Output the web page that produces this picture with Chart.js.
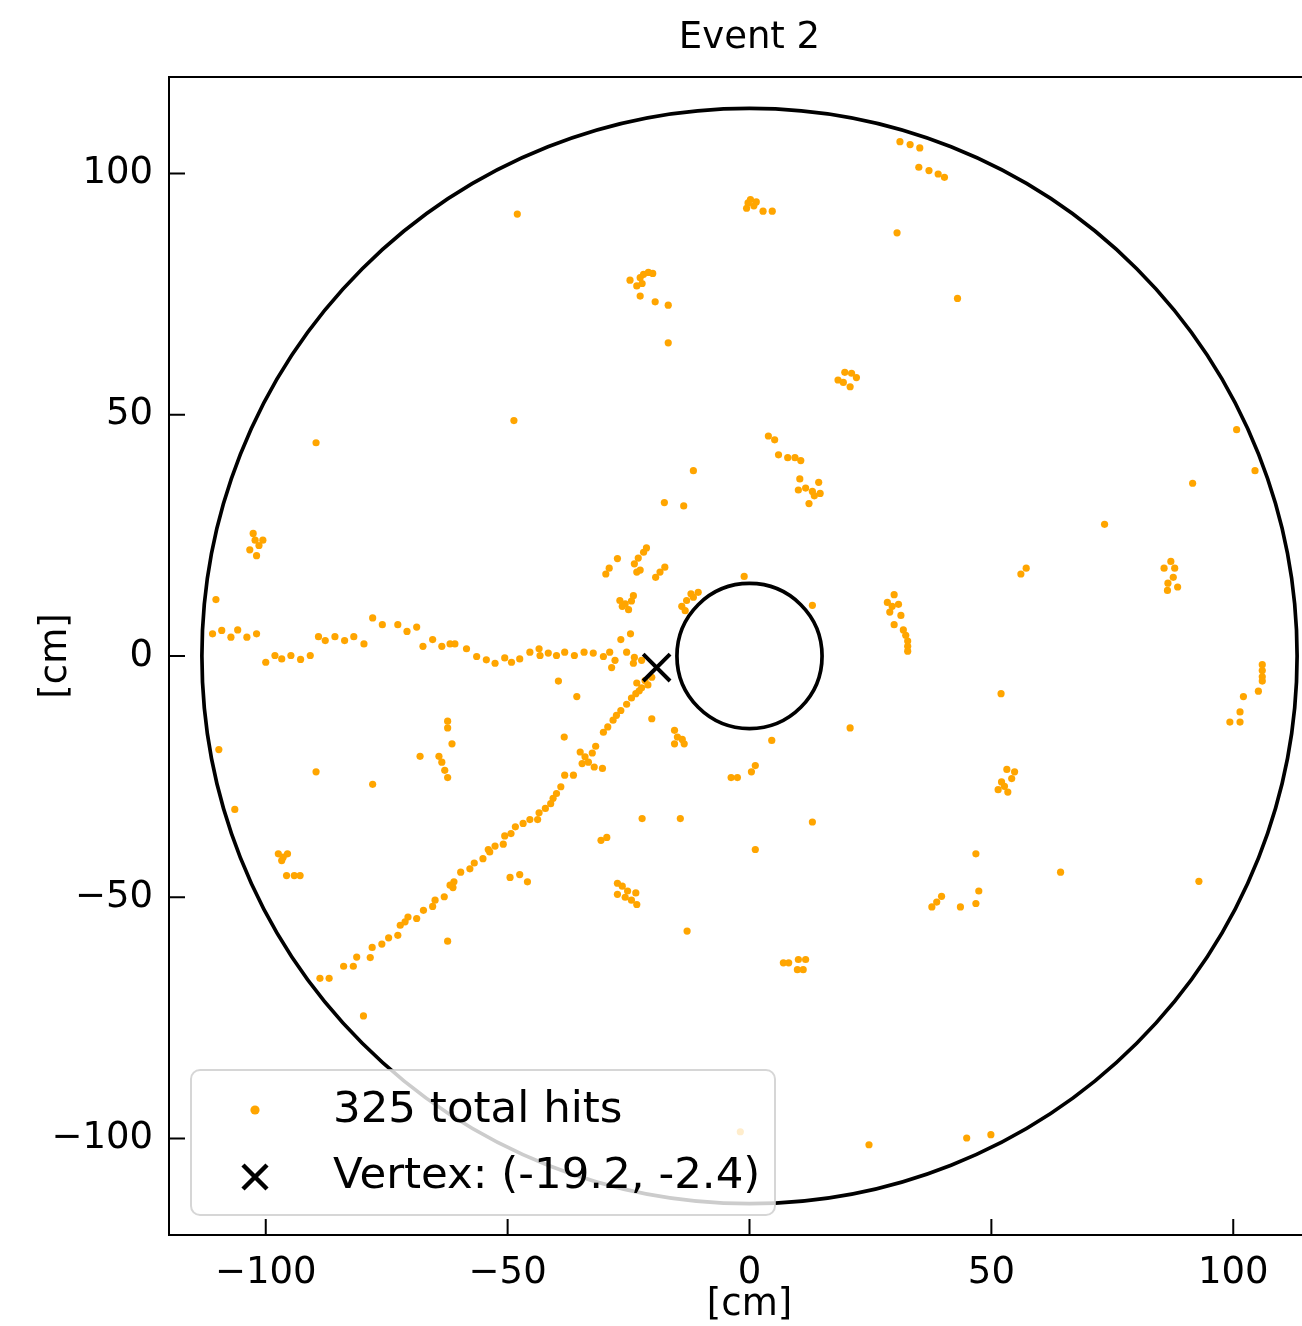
<!DOCTYPE html>
<html>
<head>
<meta charset="utf-8">
<title>Event 2</title>
<script src="https://cdn.jsdelivr.net/npm/chart.js@4.4.1/dist/chart.umd.min.js"></script>
<style>
  html, body { margin: 0; padding: 0; background: #fff; overflow: hidden; }
  /* canvas is a bit wider than the window, the right edge of the axes is cropped like the original */
  #wrap { width: 1353px; height: 1326px; position: relative; }
</style>
</head>
<body>
<div id="wrap"><canvas id="eventChart"></canvas></div>
<script>
// Hit positions [x, y] in cm
const hitPoints = [
    // upper left
    [-89.6, 44.2], [-48.0, 91.6], [-48.7, 48.8],
    [-24.7, 77.9], [-23.3, 76.7], [-22.6, 78.4], [-21.9, 79.1], [-20.9, 79.5], [-20.0, 79.3],
    [-22.2, 77.2], [-22.6, 74.6], [-19.5, 73.4], [-16.8, 72.7], [-16.8, 64.9],
    // upper right
    [31.1, 106.6], [33.2, 106.0], [35.2, 105.3], [35.0, 101.3], [37.1, 100.6], [39.0, 99.9], [40.3, 99.2],
    [-0.3, 93.9], [-0.6, 92.8], [1.4, 94.1], [2.8, 92.2], [4.7, 92.2], [0.2, 94.6], [0.9, 93.3],
    [30.5, 87.7], [43.0, 74.1],
    [18.3, 57.2], [19.7, 58.8], [21.1, 58.6], [22.1, 57.7], [20.8, 55.8], [19.4, 56.7],
    [3.9, 45.6], [5.2, 44.8], [6.0, 41.7], [7.9, 41.1], [9.4, 41.1], [10.6, 40.5],
    [100.7, 46.9],
    // left side
    [-102.6, 25.4], [-102.2, 24.0], [-100.6, 24.0], [-101.4, 22.9], [-103.3, 22.0], [-101.9, 20.8],
    [-110.3, 11.7],
    [-111.0, 4.6], [-109.1, 5.3], [-107.2, 3.9], [-105.8, 5.4], [-103.9, 3.9], [-101.9, 4.6],
    [-100.0, -1.3], [-98.1, 0.1], [-96.7, -0.6], [-94.8, 0.1], [-92.8, -0.7], [-90.8, 0.1],
    [-89.1, 4.0], [-87.7, 3.2], [-85.7, 4.0], [-83.7, 3.2], [-81.8, 4.0], [-79.7, 2.5],
    [-77.9, 7.9], [-75.9, 6.5], [-72.7, 6.5], [-70.8, 5.1], [-68.8, 6.0],
    [-67.5, 2.0], [-65.5, 3.4], [-63.6, 2.0], [-61.9, 2.5],
    [-62.4, -13.5], [-62.4, -14.9], [-61.5, -18.2],
    [-109.7, -19.4], [-68.1, -20.8], [-64.2, -20.8], [-63.6, -22.0], [-63.0, -23.7], [-62.4, -25.2],
    [-89.6, -24.0], [-77.9, -26.6], [-106.4, -31.8],
    // around the vertex
    [-11.6, 38.4], [-17.6, 31.8], [-13.6, 31.1], [-27.3, 20.2], [-29.7, 17.0], [-29.0, 18.2],
    [-23.8, 19.1], [-23.0, 20.3], [-21.9, 21.5], [-21.3, 22.4], [-23.3, 17.4], [-22.6, 17.8],
    [-19.4, 16.3], [-18.5, 17.4], [-17.5, 18.4],
    [-26.8, 11.5], [-25.7, 10.8], [-24.0, 12.5], [-25.0, 9.6], [-26.3, 10.3], [-24.4, 11.4],
    [-14.0, 10.3], [-13.0, 11.5], [-12.1, 12.9], [-10.6, 13.2], [-13.3, 9.4], [-11.6, 12.2],
    [-24.6, 4.6], [-26.6, 3.4],
    // horizontal track
    [-60.9, 2.5], [-58.5, 1.5], [-56.4, -0.1], [-54.4, -0.8], [-52.6, -1.5], [-50.6, -0.4],
    [-49.2, -1.3], [-47.5, -0.6], [-45.4, 0.8], [-43.5, 1.5], [-43.3, 0.1], [-41.6, 0.6],
    [-39.9, 0.1], [-38.2, 0.8], [-36.2, 0.1], [-34.2, 0.8], [-32.3, 0.6], [-30.2, -0.1],
    [-28.9, 0.8], [-27.8, -0.9], [-28.5, -2.4], [-25.4, 0.8], [-23.8, -0.3], [-22.3, -0.9], [-24.0, -1.5],
    [-39.5, -5.2], [-35.7, -8.4],
    // diagonal track
    [-20.2, -4.4], [-21.6, -5.1], [-23.3, -5.6], [-22.3, -6.6], [-21.0, -6.0], [-22.8, -7.2],
    [-23.5, -7.8], [-24.4, -8.7], [-25.4, -10.0], [-26.6, -11.3], [-27.5, -12.3], [-28.2, -13.3],
    [-29.3, -14.7], [-30.2, -15.8], [-31.8, -18.7], [-32.5, -20.1], [-35.0, -19.9], [-34.0, -20.9],
    [-34.6, -22.3], [-33.3, -22.0], [-32.1, -23.0], [-30.4, -23.3], [-38.2, -24.7], [-36.4, -24.7],
    [-39.0, -27.1], [-39.9, -28.5], [-40.6, -29.5], [-41.1, -30.6], [-42.2, -31.6], [-43.5, -32.5],
    [-43.8, -33.9], [-45.4, -33.9], [-46.8, -34.7], [-48.4, -35.4], [-49.3, -36.8], [-50.6, -37.3],
    [-50.9, -39.0], [-52.6, -39.4], [-54.0, -40.1],
    [-53.7, -40.6], [-55.1, -42.0], [-56.9, -42.9], [-57.8, -44.1], [-59.7, -44.8], [-61.1, -46.8],
    [-61.3, -48.0], [-61.9, -47.5], [-63.1, -49.9], [-65.0, -50.6], [-65.5, -51.9], [-67.4, -52.7],
    [-68.8, -54.4], [-70.6, -54.1], [-71.2, -55.1], [-72.2, -55.8], [-72.7, -57.9], [-74.6, -58.4],
    [-76.0, -59.7], [-78.0, -60.4], [-78.4, -62.5], [-81.2, -62.4], [-81.9, -64.3], [-83.9, -64.3],
    [-86.9, -66.8], [-88.8, -66.8],
    [-20.2, -13.0], [-38.3, -16.8],
    [-15.5, -15.4], [-14.9, -16.8], [-13.9, -17.3], [-13.5, -18.2], [-15.5, -18.2],
    [-3.8, -25.2], [-22.2, -33.7], [-14.3, -33.7], [-30.7, -38.2], [-29.5, -37.6],
    // right of the inner circle
    [10.4, 36.7], [10.1, 34.4], [11.6, 34.8], [13.0, 34.1], [14.3, 36.0], [14.6, 33.7], [13.4, 33.2], [12.3, 31.6],
    [-1.1, 16.5], [13.0, 10.5],
    [29.9, 12.7], [28.5, 11.1], [29.5, 10.3], [30.8, 10.7], [29.0, 9.1], [31.3, 8.4], [29.9, 6.5],
    [31.8, 5.4], [32.3, 4.3], [32.7, 3.1], [32.7, 2.0], [32.7, 1.0],
    [52.0, -7.8], [20.8, -14.9], [4.6, -17.5], [1.2, -22.7], [0.4, -24.0], [-2.5, -25.2],
    [53.2, -23.5], [54.8, -24.0], [52.1, -26.1], [51.4, -27.7], [53.4, -28.2], [54.2, -25.4], [52.7, -27.0],
    [13.0, -34.4], [1.2, -40.1],
    [104.5, 38.4], [91.6, 35.8], [73.4, 27.3], [56.1, 17.0], [57.2, 18.2],
    [87.1, 19.6], [85.7, 18.2], [87.9, 18.2], [87.6, 16.3], [86.5, 15.1], [88.5, 14.3], [86.4, 13.6],
    [106.0, -1.8], [106.0, -3.0], [106.0, -4.3], [106.0, -5.2], [105.2, -7.3], [102.1, -8.4],
    [101.4, -11.6], [99.3, -13.7], [101.4, -13.7],
    // lower half
    [-97.4, -41.0], [-96.4, -41.7], [-95.5, -41.0], [-96.7, -42.4], [-95.7, -45.5], [-94.1, -45.5], [-92.9, -45.5],
    [-62.4, -59.1], [-79.8, -74.6],
    [-49.5, -45.9], [-47.5, -45.3], [-45.9, -46.8],
    [-27.3, -47.1], [-26.3, -47.7], [-25.2, -48.7], [-23.5, -49.1], [-27.3, -49.4], [-25.7, -50.0],
    [-24.4, -50.6], [-23.3, -51.5],
    [-12.9, -57.0],
    [46.8, -41.0], [39.7, -49.8], [38.7, -51.0], [37.7, -52.0], [43.6, -52.0], [47.4, -48.7], [46.8, -51.3],
    [7.0, -63.6], [8.1, -63.6], [10.1, -62.9], [11.6, -62.9], [9.9, -65.0], [11.1, -65.0],
    [-1.9, -98.6], [24.7, -101.3], [44.9, -99.9], [49.9, -99.2],
    [64.3, -44.8], [92.9, -46.7]
];
const totalHits = 325;
const vertexPoint = [-19.2, -2.4];
const detectorRadii = [15, 113.2];   // inner and outer boundary (cm)
const tickValues = [-100, -50, 0, 50, 100];
const axisMin = -120;
const axisMax = 120;

const FONT = 'DejaVu Sans';

function tickLabel(v) {
    return v < 0 ? '\u2212' + Math.abs(v) : String(v);
}

// Circles, frame, inward ticks and the in-axes legend
const eventDisplay = {
    id: 'eventDisplay',
    beforeDatasetsDraw(chart) {
        const ctx = chart.ctx;
        const xs = chart.scales.x, ys = chart.scales.y;
        const cx = xs.getPixelForValue(0), cy = ys.getPixelForValue(0);
        ctx.save();
        ctx.strokeStyle = '#000';
        ctx.lineWidth = 3.7;
        detectorRadii.forEach(r => {
            const rPix = xs.getPixelForValue(r) - cx;
            ctx.beginPath();
            ctx.arc(cx, cy, rPix, 0, Math.PI * 2);
            ctx.stroke();
        });
        ctx.restore();
    },
    afterDatasetsDraw(chart) {
        const ctx = chart.ctx;
        const area = chart.chartArea;
        const sets = chart.data.datasets;

        // legend box
        const lx = area.left + 22, ly = area.bottom - 165, lw = 584, lh = 145;
        ctx.save();
        ctx.beginPath();
        ctx.roundRect(lx, ly, lw, lh, 9);
        ctx.fillStyle = 'rgba(255,255,255,0.8)';
        ctx.fill();
        ctx.strokeStyle = 'rgba(204,204,204,0.8)';
        ctx.lineWidth = 2;
        ctx.stroke();

        ctx.font = '43.5px "' + FONT + '"';
        ctx.fillStyle = '#000';
        ctx.textBaseline = 'middle';
        ctx.textAlign = 'left';
        const rows = [ly + 41, ly + 107];
        const mx = lx + 64;
        sets.forEach((ds, i) => {
            const y = rows[i];
            if (ds.pointStyle === 'crossRot') {
                const h = 12;
                ctx.strokeStyle = ds.pointBorderColor;
                ctx.lineWidth = 4.5;
                ctx.beginPath();
                ctx.moveTo(mx - h, y - h); ctx.lineTo(mx + h, y + h);
                ctx.moveTo(mx + h, y - h); ctx.lineTo(mx - h, y + h);
                ctx.stroke();
            } else {
                ctx.fillStyle = ds.pointBackgroundColor;
                ctx.beginPath();
                ctx.arc(mx, y - 1, 4.6, 0, Math.PI * 2);
                ctx.fill();
            }
            ctx.fillStyle = '#000';
            ctx.fillText(ds.label, lx + 142, y);
        });
        ctx.restore();
    },
    afterDraw(chart) {
        const ctx = chart.ctx;
        const a = chart.chartArea;
        const xs = chart.scales.x, ys = chart.scales.y;
        ctx.save();
        ctx.strokeStyle = '#000';
        ctx.lineWidth = 2;
        ctx.strokeRect(a.left, a.top, a.right - a.left, a.bottom - a.top);
        // ticks point into the axes
        ctx.beginPath();
        tickValues.forEach(v => {
            const px = xs.getPixelForValue(v);
            ctx.moveTo(px, a.bottom);
            ctx.lineTo(px, a.bottom - 16);
            const py = ys.getPixelForValue(v);
            ctx.moveTo(a.left, py);
            ctx.lineTo(a.left + 16, py);
        });
        ctx.stroke();
        ctx.restore();
    }
};

const axisFont = { family: FONT, size: 37 };

new Chart(document.getElementById('eventChart'), {
    type: 'scatter',
    data: {
        datasets: [{
            label: totalHits + ' total hits',
            data: hitPoints.map(p => ({ x: p[0], y: p[1] })),
            pointRadius: 3.6,
            pointBackgroundColor: '#ffa500',
            pointBorderWidth: 0,
            borderWidth: 0,
            order: 1
        }, {
            label: 'Vertex: (' + vertexPoint[0].toFixed(1) + ', ' + vertexPoint[1].toFixed(1) + ')',
            data: [{ x: vertexPoint[0], y: vertexPoint[1] }],
            pointStyle: 'crossRot',
            pointRadius: 19,
            pointBorderWidth: 4,
            pointBorderColor: '#000',
            pointBackgroundColor: '#000',
            order: 0
        }]
    },
    options: {
        responsive: true,
        maintainAspectRatio: false,
        animation: false,
        events: [],
        layout: { padding: { top: 0, right: 10, bottom: 0, left: 0 } },
        plugins: {
            legend: { display: false },
            tooltip: { enabled: false },
            title: {
                display: true,
                text: 'Event 2',
                fullSize: false,
                color: '#000',
                font: { family: FONT, size: 37, weight: 'normal' },
                padding: { top: 16, bottom: 16.6 }
            }
        },
        scales: {
            x: {
                type: 'linear',
                min: axisMin,
                max: axisMax,
                afterBuildTicks: s => { s.ticks = tickValues.map(v => ({ value: v })); },
                afterFit: s => { s.height = 91; s.paddingLeft = 0; s.paddingRight = 0; },
                grid: { display: false, drawTicks: false },
                border: { display: false },
                ticks: { font: axisFont, color: '#000', padding: 16, maxRotation: 0, autoSkip: false, callback: tickLabel },
                title: { display: true, text: '[cm]', font: axisFont, color: '#000', padding: { top: 0, bottom: -2 } }
            },
            y: {
                type: 'linear',
                min: axisMin,
                max: axisMax,
                afterBuildTicks: s => { s.ticks = tickValues.map(v => ({ value: v })); },
                afterFit: s => { s.width = 169; s.paddingTop = 0; s.paddingBottom = 0; },
                grid: { display: false, drawTicks: false },
                border: { display: false },
                ticks: { font: axisFont, color: '#000', padding: 16, autoSkip: false, callback: tickLabel },
                title: { display: true, text: '[cm]', font: axisFont, color: '#000', padding: { top: 34, bottom: 0 } }
            }
        }
    },
    plugins: [eventDisplay]
});
</script>
</body>
</html>
